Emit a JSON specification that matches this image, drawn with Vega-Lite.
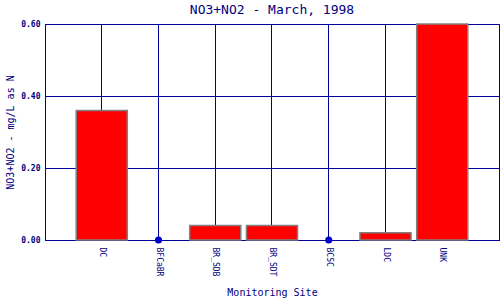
{
  "$schema": "https://vega.github.io/schema/vega-lite/v6.json",
  "width": 454,
  "height": 216,
  "autosize": {"type": "none"},
  "padding": {"left": 45, "top": 24, "right": 1, "bottom": 60},
  "background": "white",
  "title": {"text": "NO3+NO2 - March, 1998", "font": "DejaVu Sans Mono", "fontSize": 13, "fontWeight": "normal", "color": "#000080", "offset": 3},
  "data": {"values": [
    {"site": "DC", "value": 0.36},
    {"site": "BFCaBR", "value": 0},
    {"site": "BR_SDB", "value": 0.04},
    {"site": "BR_SDT", "value": 0.04},
    {"site": "BCSC", "value": 0},
    {"site": "LDC", "value": 0.02},
    {"site": "UNK", "value": 0.6}
  ]},
  "encoding": {
    "x": {"field": "site", "type": "nominal", "sort": ["DC", "BFCaBR", "BR_SDB", "BR_SDT", "BCSC", "LDC", "UNK"],
      "scale": {"paddingInner": 0.1, "paddingOuter": 0.55},
      "axis": {"title": "Monitoring Site", "labelAngle": 90, "ticks": false, "grid": true, "bandPosition": 0.5,
        "gridColor": "#000099", "gridOpacity": 1, "gridWidth": 1,
        "domainColor": "#000099", "labelColor": "#000080", "titleColor": "#000080",
        "labelFont": "DejaVu Sans Mono", "labelFontSize": 8, "labelPadding": 7,
        "titleFont": "DejaVu Sans Mono", "titleFontSize": 10, "titleFontWeight": "normal", "titlePadding": 12}},
    "y": {"field": "value", "type": "quantitative",
      "scale": {"domain": [0, 0.6], "nice": false},
      "axis": {"title": "NO3+NO2 - mg/L as N", "values": [0, 0.2, 0.4, 0.6], "format": ".2f", "ticks": false,
        "grid": true, "gridColor": "#000099", "gridOpacity": 1, "gridWidth": 1,
        "domainColor": "#000099", "labelColor": "#000080", "titleColor": "#000080",
        "labelFont": "DejaVu Sans Mono", "labelFontSize": 8, "labelFontWeight": "bold", "labelPadding": 5,
        "titleFont": "DejaVu Sans Mono", "titleFontSize": 10, "titleFontWeight": "normal", "titlePadding": 5}}
  },
  "layer": [
    {"transform": [{"filter": "datum.value > 0"}],
     "mark": {"type": "bar", "color": "#ff0000", "stroke": "#808080", "strokeWidth": 1.5}},
    {"transform": [{"filter": "datum.value == 0"}],
     "mark": {"type": "point", "filled": true, "color": "#0000cc", "size": 50, "opacity": 1}}
  ],
  "config": {"view": {"stroke": "#000099", "strokeWidth": 1}}
}
